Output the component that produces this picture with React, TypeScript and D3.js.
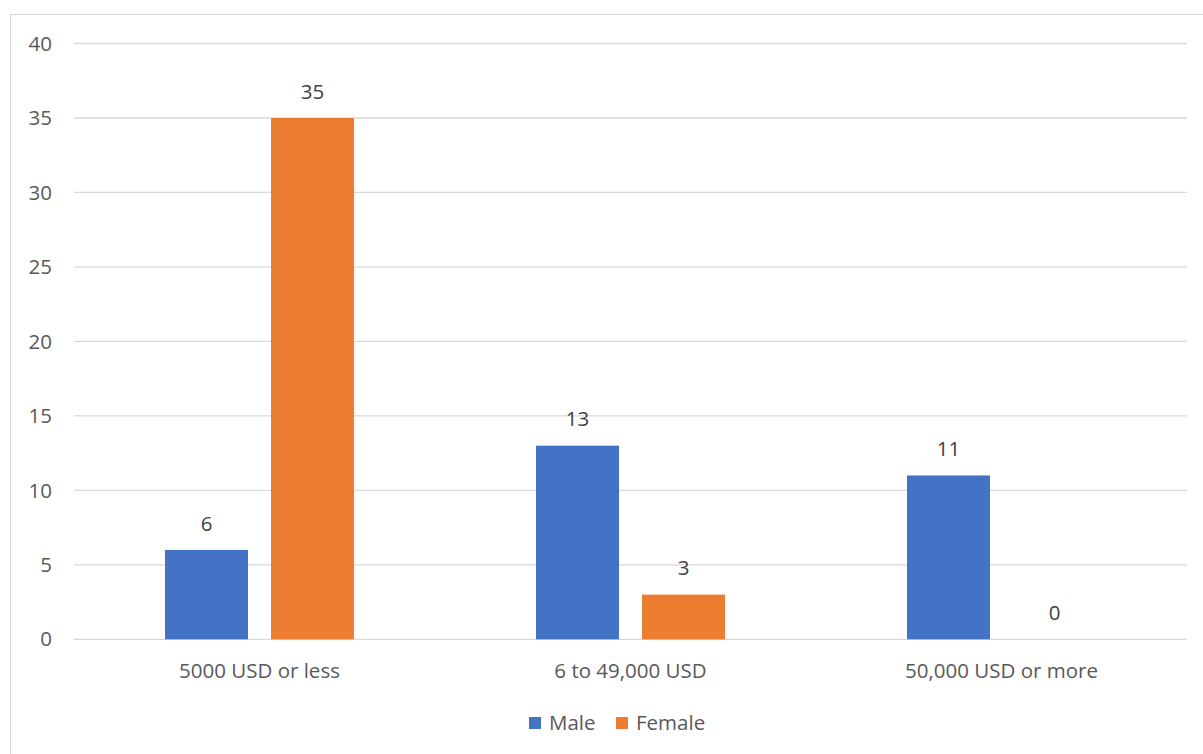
import React from "react";
import * as d3 from "d3";

const categories = ["5000 USD or less", "6 to 49,000 USD", "50,000 USD or more"];
const seriesNames = ["Male", "Female"];
const maleValues = [6, 13, 11];
const femaleValues = [35, 3, 0];
const yTicks = [0, 5, 10, 15, 20, 25, 30, 35, 40];
const colors = ["#4472C4", "#ED7D31"];

export default function App() {
  const W = 1203, H = 754;
  const left = 74, right = 1187, top = 43.5, bottom = 639.3;
  const x = d3.scaleBand<string>().domain(categories).range([left, right]).paddingInner(0).paddingOuter(0);
  const y = d3.scaleLinear().domain([0, 40]).range([bottom, top]);
  const bw = 83, gap = 23;
  const series = [maleValues, femaleValues];
  const font = "'Open Sans', 'DejaVu Sans', sans-serif";
  const fs = 20.5;
  return (
    <svg width={W} height={H} style={{ position: "absolute", left: 0, top: 0 }} fontFamily={font}>
      <rect x={0} y={0} width={W} height={H} fill="#fff" />
      <rect x={10.5} y={14.5} width={W + 20} height={H + 20} fill="none" stroke="#D9D9D9" strokeWidth={1} />
      {yTicks.map((t) => (
        <g key={t}>
          <line x1={left} x2={right} y1={y(t)} y2={y(t)} stroke="#D9D9D9" strokeWidth={1.3} />
          <text x={52} y={y(t)} dy="0.35em" textAnchor="end" fontSize={fs} fill="#595959">{t}</text>
        </g>
      ))}
      {categories.map((c, i) => {
        const cx = (x(c) as number) + x.bandwidth() / 2;
        return (
          <g key={c}>
            {series.map((vals, s) => {
              const bx = cx - gap / 2 - bw + s * (bw + gap);
              const v = vals[i];
              return (
                <g key={s}>
                  <rect x={bx} y={y(v)} width={bw} height={y(0) - y(v)} fill={colors[s]} />
                  <text x={bx + bw / 2} y={y(v) - 26.5} dy="0.35em" textAnchor="middle" fontSize={fs} fill="#404040">{v}</text>
                </g>
              );
            })}
            <text x={cx} y={671} dy="0.35em" textAnchor="middle" fontSize={fs} fill="#595959">{c}</text>
          </g>
        );
      })}
      <g>
        <rect x={529} y={717} width={12} height={12} fill={colors[0]} />
        <text x={549} y={723} dy="0.35em" fontSize={fs} fill="#595959">{seriesNames[0]}</text>
        <rect x={616} y={717} width={12} height={12} fill={colors[1]} />
        <text x={636} y={723} dy="0.35em" fontSize={fs} fill="#595959">{seriesNames[1]}</text>
      </g>
    </svg>
  );
}
